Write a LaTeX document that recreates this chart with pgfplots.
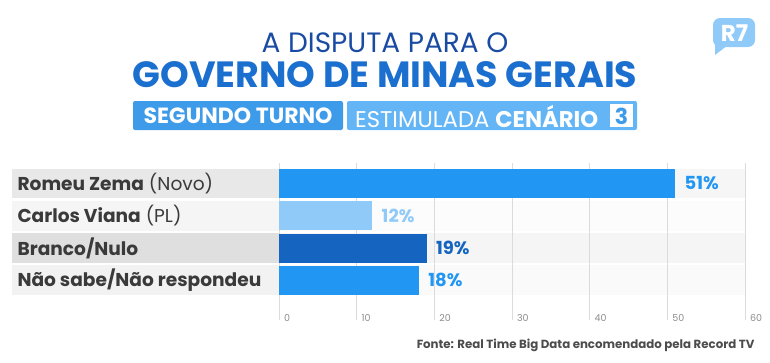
\documentclass[border=0pt]{standalone}
\usepackage{pgfplots}
\pgfplotsset{compat=1.18}
\usepackage{fontspec}
\setmainfont{Poppins}
\definecolor{navy}{HTML}{1A4BA3}
\definecolor{tblue}{HTML}{1B6FCF}
\definecolor{boxA}{HTML}{3D9BE9}
\definecolor{boxB}{HTML}{64B5F6}
\definecolor{barA}{HTML}{2196F3}
\definecolor{barB}{HTML}{90CAF9}
\definecolor{barC}{HTML}{1565C0}
\definecolor{lab}{HTML}{3A3A3A}
\definecolor{logo}{HTML}{90CAF9}
\begin{document}
\begin{tikzpicture}[x=1pt,y=-1pt]
\useasboundingbox (0,0) rectangle (770,362);
% header
\node[text=navy,font=\fontsize{28}{30}\selectfont] at (385,43) {A DISPUTA PARA O};
\node[text=tblue,font=\bfseries\fontsize{36.5}{38}\selectfont] at (385,75) {GOVERNO DE MINAS GERAIS};
\fill[boxA,rounded corners=2pt] (133,101) rectangle (343,130);
\fill[boxB,rounded corners=2pt] (347,101) rectangle (637,130);
\fill[white] (610,104) rectangle (633,127);
\node[text=white,font=\bfseries\fontsize{22}{24}\selectfont] at (238,116) {SEGUNDO TURNO};
\node[text=white,font=\fontsize{22.7}{24}\selectfont,anchor=west,inner sep=0pt] at (355,116) {ESTIMULADA \textbf{CENÁRIO}};
\node[text=boxA,font=\bfseries\fontsize{22}{24}\selectfont] at (621.5,116) {3};
% logo
\fill[logo,rounded corners=7pt] (713,18) rectangle (755,47);
\fill[logo] (715,40) -- (715,55) -- (728,45) -- cycle;
\node[text=white,font=\bfseries\fontsize{23}{24}\selectfont] at (734.5,33) {R7};
% row backgrounds
\fill[gray!18] (12,169) rectangle (279,198);
\fill[gray!8] (12,201) rectangle (279,231);
\fill[gray!25] (12,233) rectangle (279,263);
\fill[gray!10] (12,265) rectangle (279,295);
\fill[gray!7] (279,169) rectangle (745,198);
\fill[gray!2] (279,201) rectangle (745,231);
\fill[gray!8] (279,233) rectangle (745,263);
\fill[gray!4] (279,265) rectangle (745,295);
% category labels
\begin{scope}[every node/.style={anchor=west,text=lab,font=\fontsize{18.6}{20}\selectfont}]
\node at (14,184) {\textbf{Romeu Zema} (Novo)};
\node at (14,216) {\textbf{Carlos Viana} (PL)};
\node at (14,248) {\textbf{Branco/Nulo}};
\node at (14,280) {\textbf{Não sabe/Não respondeu}};
\end{scope}
\begin{axis}[
  at={(279pt,-320pt)}, anchor=south west,
  width=466pt, height=157pt, scale only axis,
  xmin=0, xmax=60, ymin=-0.635, ymax=4.23, y dir=reverse,
  xbar, bar width=29pt, bar shift=0pt,
  axis line style={draw=none},
  ytick=\empty,
  xtick={0,10,20,30,40,50,60},
  xmajorgrids, grid style={draw=black!14, line width=0.6pt},
  major tick length=0pt,
  /pgf/number format/assume math mode=true,
  xticklabel style={font=\fontsize{9.5}{10}\selectfont, text=black!45, anchor=base west, xshift=1.5pt, yshift=-1pt},
  point meta=x,
  nodes near coords={\pgfmathprintnumber{\pgfplotspointmeta}\%},
  nodes near coords style={font=\bfseries\fontsize{18}{20}\selectfont, anchor=west, xshift=6pt},
  clip=false,
]
\addplot[fill=barA, draw=none, nodes near coords style={text=barA}] coordinates {(51,0)};
\addplot[fill=barB, draw=none, nodes near coords style={text=barB}] coordinates {(12,1)};
\addplot[fill=barC, draw=none, nodes near coords style={text=barC}] coordinates {(19,2)};
\addplot[fill=barA, draw=none, nodes near coords style={text=barA}] coordinates {(18,3)};
\end{axis}
\node[anchor=east,text=black!70,font=\bfseries\fontsize{11.8}{14}\selectfont] at (758,345) {Fonte: Real Time Big Data encomendado pela Record TV};
\end{tikzpicture}
\end{document}
